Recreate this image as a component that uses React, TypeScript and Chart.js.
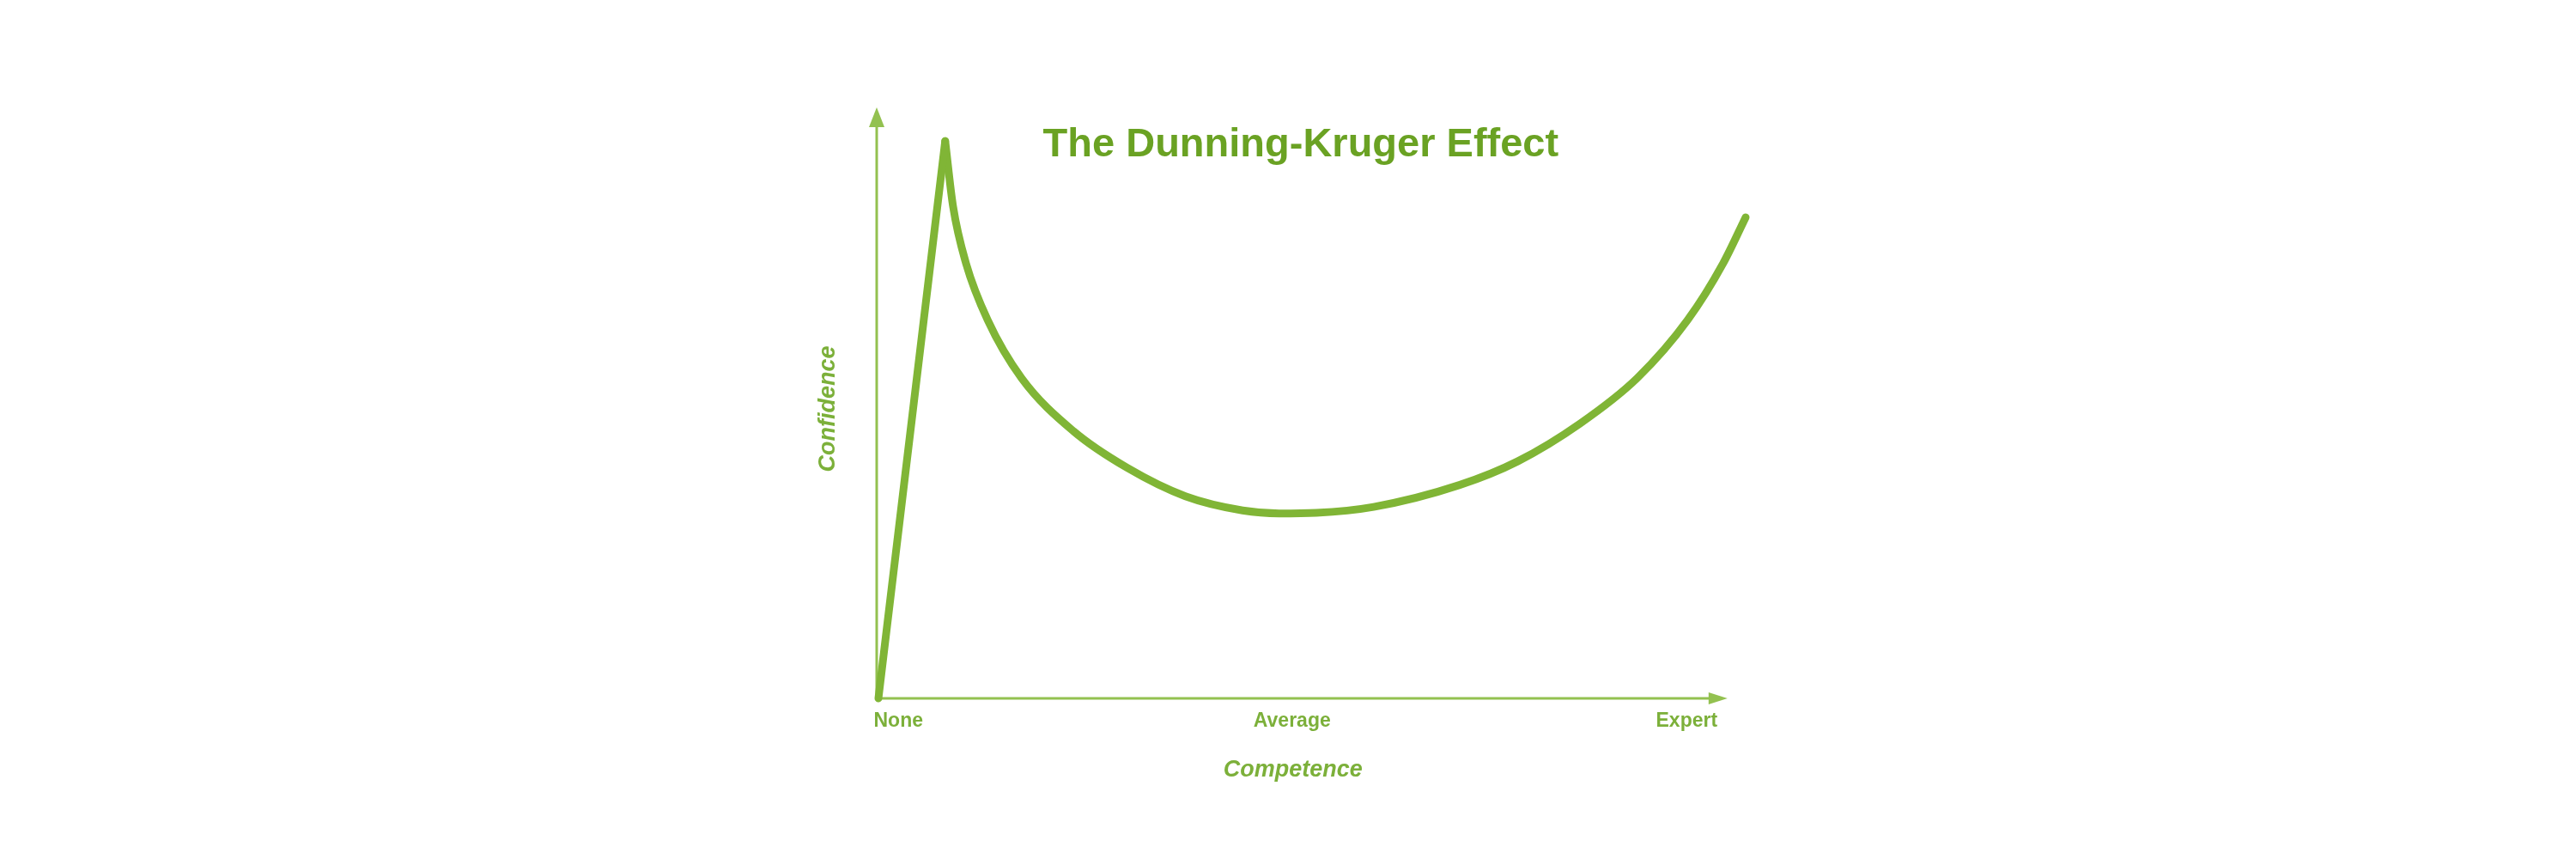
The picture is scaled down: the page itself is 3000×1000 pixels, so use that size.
import React, { useEffect, useRef } from 'react';
import { Chart, registerables } from 'chart.js';

Chart.register(...registerables);

// Competence (x, 0..100) and confidence (y, 0..100)
const competence = [
  0, 7.7, 8.6, 10.1, 12.6, 16.5, 22.5, 28.7, 35.4, 42.0, 46.2, 50.5, 57.1, 67.0, 73.7,
  80.9, 87.5, 93.3, 97.4, 100,
];
const confidence = [
  0, 94.3, 83.3, 73.6, 64.0, 54.2, 45.2, 39.0, 34.2, 31.8, 31.3, 31.4, 32.4, 36.1, 40.1,
  46.5, 54.2, 64.0, 73.6, 81.4,
];

const xTickLabels = ['None', 'Average', 'Expert'];
const xTickValues = [2.3, 47.7, 93.2];

const titleText = 'The Dunning-Kruger Effect';
const xAxisTitle = 'Competence';
const yAxisTitle = 'Confidence';

const X_AXIS_END = 97.9;
const Y_AXIS_END = 100;
const TITLE_X = 48.7;

const TITLE_COLOR = '#6aa223';
const LINE_COLOR = '#80b536';
const AXIS_COLOR = '#93c150';
const LABEL_COLOR = '#7cb03a';

const FONT = "'Liberation Sans', Arial, sans-serif";

const points = competence.map((c, i) => ({ x: c, y: confidence[i] }));
// straight rise to the peak, then the smooth fall and recovery
const risePoints = points.slice(0, 2);
const curvePoints = points.slice(1);

const dkPlugin = {
  id: 'dkDecor',
  beforeDatasetsDraw(chart: any) {
    const { ctx, scales } = chart;
    const x = scales.x;
    const y = scales.y;
    const x0 = x.getPixelForValue(0) - 2;
    const y0 = y.getPixelForValue(0);
    const yTip = y.getPixelForValue(Y_AXIS_END);
    const xTip = x.getPixelForValue(X_AXIS_END);
    ctx.save();
    ctx.strokeStyle = AXIS_COLOR;
    ctx.fillStyle = AXIS_COLOR;
    ctx.lineWidth = 3;
    ctx.beginPath();
    ctx.moveTo(x0, y0);
    ctx.lineTo(x0, yTip + 18);
    ctx.moveTo(x0, y0);
    ctx.lineTo(xTip - 18, y0);
    ctx.stroke();
    ctx.beginPath();
    ctx.moveTo(x0, yTip);
    ctx.lineTo(x0 - 9, yTip + 23);
    ctx.lineTo(x0 + 9, yTip + 23);
    ctx.closePath();
    ctx.fill();
    ctx.beginPath();
    ctx.moveTo(xTip, y0);
    ctx.lineTo(xTip - 22, y0 - 7);
    ctx.lineTo(xTip - 22, y0 + 7);
    ctx.closePath();
    ctx.fill();
    ctx.restore();
  },
  afterDraw(chart: any) {
    const { ctx, scales, chartArea } = chart;
    const x = scales.x;
    const y = scales.y;
    ctx.save();
    ctx.textAlign = 'center';
    ctx.textBaseline = 'alphabetic';

    ctx.fillStyle = TITLE_COLOR;
    ctx.font = `bold 47px ${FONT}`;
    ctx.fillText(titleText, x.getPixelForValue(TITLE_X), chartArea.top + 57);

    ctx.fillStyle = LABEL_COLOR;
    ctx.font = `bold 23px ${FONT}`;
    ctx.textBaseline = 'middle';
    xTickLabels.forEach((lab, i) => {
      ctx.fillText(lab, x.getPixelForValue(xTickValues[i]), chartArea.bottom + 27);
    });

    ctx.font = `italic bold 27px ${FONT}`;
    ctx.fillText(xAxisTitle, x.getPixelForValue(47.8), chartArea.bottom + 84);

    ctx.translate(chartArea.left - 58, y.getPixelForValue(49));
    ctx.rotate(-Math.PI / 2);
    ctx.fillText(yAxisTitle, 0, 0);
    ctx.restore();
  },
};

export default function App() {
  const ref = useRef<HTMLCanvasElement | null>(null);

  useEffect(() => {
    if (!ref.current) return;
    const chart = new Chart(ref.current, {
      type: 'line',
      data: {
        datasets: [
          {
            data: risePoints,
            borderColor: LINE_COLOR,
            borderWidth: 9,
            pointRadius: 0,
            tension: 0,
            fill: false,
            borderCapStyle: 'round',
            clip: false as any,
          },
          {
            data: curvePoints,
            borderColor: LINE_COLOR,
            borderWidth: 9,
            pointRadius: 0,
            cubicInterpolationMode: 'monotone',
            fill: false,
            borderJoinStyle: 'round',
            borderCapStyle: 'round',
            clip: false as any,
          },
        ],
      },
      options: {
        responsive: false,
        animation: false,
        devicePixelRatio: 1,
        layout: { padding: { left: 1023, right: 967, top: 125, bottom: 187 } },
        plugins: { legend: { display: false }, tooltip: { enabled: false }, title: { display: false } },
        scales: {
          x: { type: 'linear', min: 0, max: 100, display: false },
          y: { type: 'linear', min: 0, max: 100, display: false },
        },
      },
      plugins: [dkPlugin],
    });
    return () => chart.destroy();
  }, []);

  return (
    <div style={{ position: 'fixed', left: 0, top: 0, width: 3000, height: 1000, background: '#ffffff' }}>
      <canvas ref={ref} width={3000} height={1000} style={{ width: 3000, height: 1000 }} />
    </div>
  );
}
